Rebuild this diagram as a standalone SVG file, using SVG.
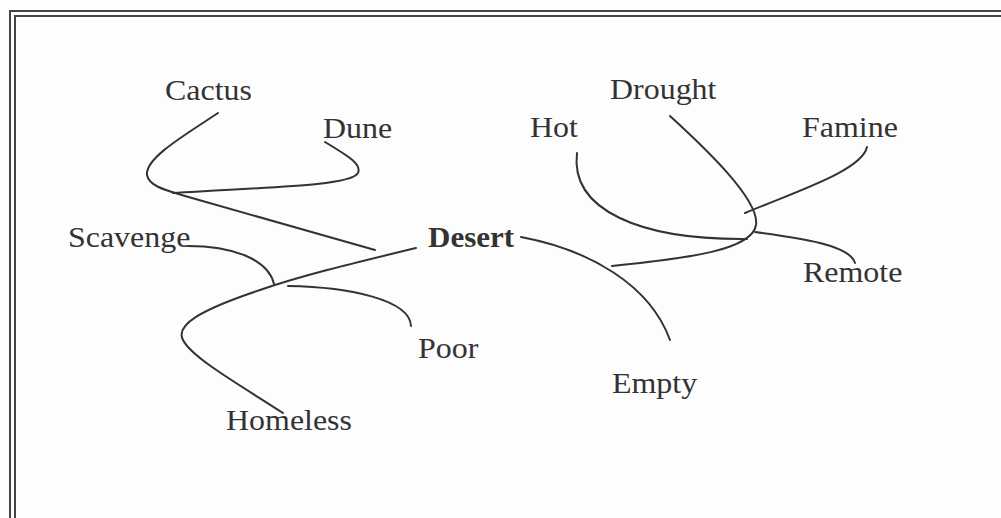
<svg xmlns="http://www.w3.org/2000/svg" width="1001" height="518" viewBox="0 0 1001 518">
<style>
.frame{fill:none;stroke:#444;stroke-width:2}
.c{fill:none;stroke:#333;stroke-width:2;stroke-linecap:round}
.t{font-family:"Liberation Serif","Times New Roman",serif;font-size:30px;fill:#333}
.b{font-weight:bold}
</style>
<rect width="1001" height="518" fill="#fdfdfd"/>
<g id="frame">
<rect class="frame" x="10" y="11" width="1100" height="600"/>
<rect class="frame" x="15" y="16" width="1100" height="600"/>
</g>
<g id="connectors">
<path class="c" d="M218,113 C185,135 145,158 147,175 C149,186 165,190 185,196 L375,250"/>
<path class="c" d="M325,142 C348,156 362,164 358,173 C352,184 300,186 173,193"/>
<path class="c" d="M188,246 C230,246 268,258 274,284"/>
<path class="c" d="M416,248 C350,264 300,276 260,290 C200,310 175,325 183,340 C192,358 240,385 283,413"/>
<path class="c" d="M288,286 C350,287 410,300 411,326"/>
<path class="c" d="M521,237 C590,250 650,285 670,340"/>
<path class="c" d="M670,116 C705,148 760,200 756,225 C752,250 690,258 612,266"/>
<path class="c" d="M577,153 C570,210 640,240 747,239"/>
<path class="c" d="M867,147 C862,170 800,190 745,213"/>
<path class="c" d="M755,232 C800,238 850,245 855,263"/>
</g>
<g id="n-cactus"><text class="t" transform="translate(165,100) scale(1.065,1)">Cactus</text></g>
<g id="n-dune"><text class="t" transform="translate(323,138) scale(1.065,1)">Dune</text></g>
<g id="n-drought"><text class="t" transform="translate(610,99) scale(1.065,1)">Drought</text></g>
<g id="n-hot"><text class="t" transform="translate(530,137) scale(1.065,1)">Hot</text></g>
<g id="n-famine"><text class="t" transform="translate(802,137) scale(1.065,1)">Famine</text></g>
<g id="n-scavenge"><text class="t" transform="translate(68,247) scale(1.065,1)">Scavenge</text></g>
<g id="n-desert"><text class="t b" transform="translate(428,247) scale(1.035,1)">Desert</text></g>
<g id="n-remote"><text class="t" transform="translate(803,282) scale(1.065,1)">Remote</text></g>
<g id="n-poor"><text class="t" transform="translate(418,358) scale(1.065,1)">Poor</text></g>
<g id="n-empty"><text class="t" transform="translate(612,393) scale(1.065,1)">Empty</text></g>
<g id="n-homeless"><text class="t" transform="translate(226,430) scale(1.065,1)">Homeless</text></g>
</svg>
